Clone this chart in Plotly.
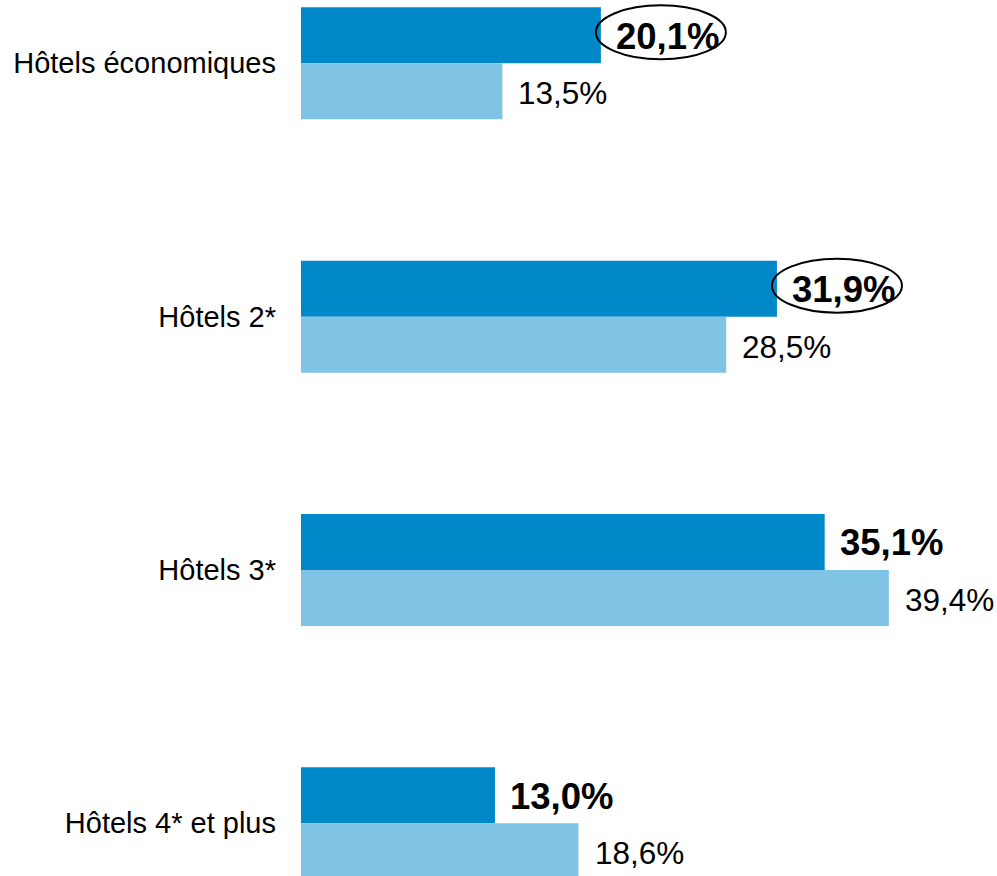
import plotly.graph_objects as go

categories = ["Hôtels économiques", "Hôtels 2*", "Hôtels 3*", "Hôtels 4* et plus"]
series_dark = [20.1, 31.9, 35.1, 13.0]
series_light = [13.5, 28.5, 39.4, 18.6]
circled = [True, True, False, False]

DARK = "#0088C9"
LIGHT = "#7FC4E4"
FONT = "Liberation Sans, Arial, sans-serif"

pos = list(range(len(categories)))
bw = 0.221

fig = go.Figure()
fig.add_trace(go.Bar(
    y=pos, x=series_dark, orientation="h", width=bw, offset=-bw,
    marker=dict(color=DARK, line=dict(width=0)), hoverinfo="skip", showlegend=False,
))
fig.add_trace(go.Bar(
    y=pos, x=series_light, orientation="h", width=bw, offset=0,
    marker=dict(color=LIGHT, line=dict(width=0)), hoverinfo="skip", showlegend=False,
))

def fmt(v):
    return f"{v:.1f}".replace(".", ",") + "%"

annotations = []
shapes = []
for i, (d, l) in enumerate(zip(series_dark, series_light)):
    annotations.append(dict(
        x=d, y=i - bw / 2, xref="x", yref="y", text=f"<b>{fmt(d)}</b>",
        showarrow=False, xanchor="left", yanchor="middle", xshift=13, yshift=-1,
        font=dict(family=FONT, size=36.5, color="black"),
    ))
    annotations.append(dict(
        x=l, y=i + bw / 2, xref="x", yref="y", text=fmt(l),
        showarrow=False, xanchor="left", yanchor="middle", xshift=14, yshift=-2,
        font=dict(family=FONT, size=31.5, color="black"),
    ))
    if circled[i]:
        shapes.append(dict(
            type="circle", xref="x", yref="y",
            xsizemode="pixel", ysizemode="pixel",
            xanchor=d, yanchor=i - bw / 2,
            x0=-5, x1=125, y0=-24, y1=30,
            line=dict(color="black", width=2), fillcolor="rgba(0,0,0,0)",
        ))

fig.update_layout(
    width=997, height=876,
    margin=dict(l=301, r=0, t=0, b=0),
    paper_bgcolor="white", plot_bgcolor="white",
    barmode="overlay",
    annotations=annotations, shapes=shapes,
    font=dict(family=FONT, color="black"),
)
fig.update_xaxes(range=[0, 46.65], visible=False, showgrid=False, zeroline=False)
fig.update_yaxes(
    range=[3.208, -0.25], tickmode="array", tickvals=pos, ticktext=categories,
    showgrid=False, zeroline=False, showline=False, ticks="",
    ticklabelstandoff=24, tickfont=dict(family=FONT, size=29, color="black"),
)

fig.write_html(
    "out.html",
    config={"displayModeBar": False, "staticPlot": True},
    post_script="document.body.style.margin='0';document.body.style.overflow='hidden';",
)
